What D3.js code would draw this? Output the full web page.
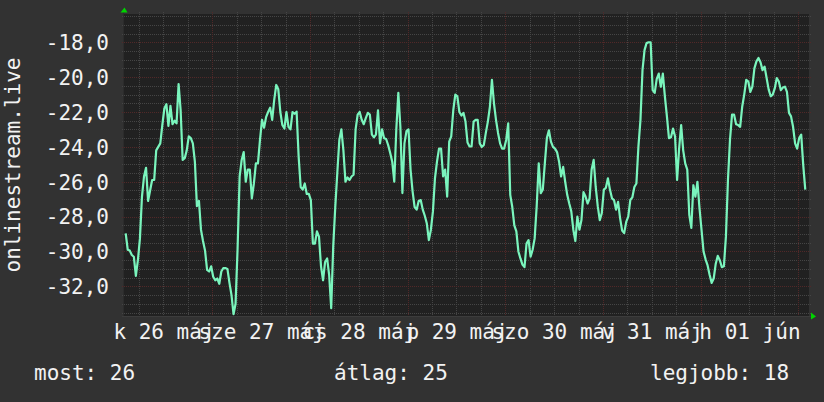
<!DOCTYPE html>
<html>
<head>
<meta charset="utf-8">
<script src="https://cdn.jsdelivr.net/npm/d3@7"></script>
<style>
body{margin:0;background:#323232;}
text{font-family:"DejaVu Sans Mono",monospace;}
</style>
</head>
<body>
<div id="chart-area"></div>
<script>
// one sample every 30 minutes, starting 2020-05-26 02:43 UTC
var startTime=Date.UTC(2020,4,26,2,43);
var stepMinutes=30;
var values=[
-28.96,-29.9,-29.95,-30.2,-30.3,-31.4,-30.5,-29.25,-26.85,-25.7,
-25.2,-27.1,-26.5,-25.9,-25.9,-24.2,-24.0,-23.8,-22.75,-21.8,
-21.55,-22.8,-21.65,-22.7,-22.5,-22.65,-20.4,-21.9,-24.75,-24.65,
-24.2,-23.4,-23.5,-23.8,-24.85,-27.4,-27.1,-28.75,-29.4,-29.95,
-31.05,-31.15,-30.85,-31.45,-31.65,-31.55,-31.85,-31.15,-30.95,-30.95,
-31.0,-31.8,-32.5,-33.6,-33.0,-29.8,-25.7,-24.75,-24.3,-26.0,
-25.3,-25.3,-26.95,-26.1,-24.95,-24.95,-23.6,-22.45,-22.9,-22.3,
-22.0,-21.75,-22.45,-21.3,-20.45,-20.7,-22.0,-22.75,-22.95,-22.0,
-22.85,-23.0,-22.0,-22.1,
-21.98,-24.55,-26.3,-26.45,-26.1,-26.7,
-26.7,-27.05,-29.55,-29.55,-28.85,-29.15,-30.85,-31.65,-30.6,-30.4,
-31.35,-33.25,-29.7,-27.45,-25.5,-23.6,-23.0,-24.2,-26.0,-25.75,
-25.9,-25.7,-25.6,-23.0,-22.15,-22.0,-22.45,-22.7,-22.35,-22.05,
-22.15,-23.3,-23.45,-23.3,-21.9,-23.8,-23.0,-23.5,-23.55,-23.9,
-24.35,-24.85,-26.0,-23.0,-20.9,-22.85,-26.65,-23.8,-23.1,-23.0,
-25.3,-26.55,-27.45,-27.6,-27.1,-27.05,-27.6,-27.95,-28.4,-29.35,
-28.75,-27.7,-25.8,-24.85,-24.1,-24.1,-25.7,-25.3,-26.85,-23.7,
-23.4,-21.9,-21.0,-21.1,-22.0,-22.2,-22.05,-22.55,
-23.75,-23.98,
-23.98,-22.55,-22.45,-22.45,-23.8,-24.0,-23.9,-23.2,-22.55,-21.7,
-20.15,-21.5,-22.45,-23.2,-23.8,-24.1,-24.1,-23.6,-22.65,-26.75,
-27.45,-28.5,-28.85,-30.0,-30.4,-30.75,-30.9,-29.55,-29.35,-30.3,
-29.9,-29.25,-27.4,-24.95,-26.65,-26.45,-24.95,-23.5,-23.05,-23.7,
-24.0,-24.1,-24.3,-24.85,-25.7,-25.15,-26.0,-26.75,-27.25,-27.7,
-28.75,-29.4,-28.0,-28.75,-28.2,-26.6,-26.85,-27.25,-26.95,-25.3,
-24.75,-26.3,-27.4,-28.2,-27.8,-26.45,-26.35,-25.8,-26.45,-26.95,
-27.05,-27.6,-27.15,-28.1,-28.8,-28.95,-28.3,-28.0,-27.05,-26.9,
-26.3,
-26.1,-23.98,-22.45,-19.6,-18.45,-18.05,-18.0,-18.0,-20.75,
-20.9,-20.1,-19.8,-20.55,-19.8,-21.1,-22.25,-23.5,-23.45,-22.95,
-23.4,-25.9,-24.1,-22.75,-24.2,-24.95,-25.3,-27.9,-28.65,-26.2,
-26.85,-26.0,-27.5,-28.75,-30.0,-30.45,-30.8,-31.35,-31.8,-31.55,
-30.7,-30.25,-30.5,-30.9,-30.85,-29.15,-25.9,-23.6,-22.15,-22.15,
-22.7,-22.75,-22.85,-21.7,-21.0,-20.15,-20.25,-20.85,-20.55,-19.5,
-19.1,-18.9,-19.15,-19.6,-19.4,-20.05,-20.7,-21.1,-21.0,-20.65,
-20.05,-20.25,-20.75,-20.6,-20.55,-20.85,-22.05,-22.25,-22.85,-23.8,
-24.1,-23.5,-23.3,-25.05,-26.45
];
var dayLabels=["k 26 máj","sze 27 máj","cs 28 máj","p 29 máj","szo 30 máj","v 31 máj","h 01 jún"];
var dayNoons=[26,27,28,29,30,31,32].map(function(d){return Date.UTC(2020,4,d,12);});
var yLabelTicks=[-32,-30,-28,-26,-24,-22,-20,-18];
var legendNames=["most:","átlag:","legjobb:"];
var legendValues=[26,25,18];
var axisTitle="onlinestream.live";

var width=824,height=402;
var plot={left:124,right:809,top:14,bottom:316};

var data=values.map(function(v,i){return {t:new Date(startTime+i*stepMinutes*60000),v:v};});

var svg=d3.select("#chart-area").append("svg")
	.attr("width",width)
	.attr("height",height);

svg.append("rect").attr("width",width).attr("height",height).attr("fill","#323232");

var x=d3.scaleUtc()
	.domain([new Date(Date.UTC(2020,4,26,2,18)),new Date(Date.UTC(2020,5,2,2,38))])
	.range([plot.left,plot.right]);

var y=d3.scaleLinear()
	.domain([-33.7,-16.38])
	.range([plot.bottom,plot.top]);

var loc=d3.formatLocale({decimal:",",thousands:" ",grouping:[3],currency:["",""],minus:"-"});
var fmt=loc.format(".1f");

svg.append("rect")
	.attr("x",plot.left)
	.attr("y",plot.top)
	.attr("width",plot.right-plot.left)
	.attr("height",plot.bottom-plot.top)
	.attr("fill","#212121");

function px(v){return Math.round(v)+0.5;}

// minor grid
var minorY=d3.range(-33.5,-16.4,0.5);
svg.append("g").attr("shape-rendering","crispEdges").selectAll("line").data(minorY).enter().append("line")
	.attr("x1",plot.left-2).attr("x2",plot.right+2)
	.attr("y1",(d)=>px(y(d))).attr("y2",(d)=>px(y(d)))
	.attr("stroke","#454545").attr("stroke-dasharray","1,1");

var minorX=d3.utcHour.every(6).range(x.domain()[0],x.domain()[1]);
svg.append("g").attr("shape-rendering","crispEdges").selectAll("line").data(minorX).enter().append("line")
	.attr("x1",(d)=>px(x(d))).attr("x2",(d)=>px(x(d)))
	.attr("y1",plot.top-2).attr("y2",plot.bottom+2)
	.attr("stroke","#454545").attr("stroke-dasharray","1,1");

// major grid
var majorY=d3.range(-32,-17,2);
svg.append("g").attr("shape-rendering","crispEdges").selectAll("line").data(majorY).enter().append("line")
	.attr("x1",plot.left-2).attr("x2",plot.right+2)
	.attr("y1",(d)=>px(y(d))).attr("y2",(d)=>px(y(d)))
	.attr("stroke","#512828").attr("stroke-dasharray","1,1");

var majorX=d3.utcDay.range(x.domain()[0],x.domain()[1]);
svg.append("g").attr("shape-rendering","crispEdges").selectAll("line").data(majorX).enter().append("line")
	.attr("x1",(d)=>px(x(d))).attr("x2",(d)=>px(x(d)))
	.attr("y1",plot.top-2).attr("y2",plot.bottom+2)
	.attr("stroke","#512828").attr("stroke-dasharray","1,1");

// axis lines
svg.append("line")
	.attr("x1",plot.left-2).attr("x2",plot.right+3)
	.attr("y1",plot.bottom+0.5).attr("y2",plot.bottom+0.5)
	.attr("stroke","#3c3c3c");
svg.append("line")
	.attr("x1",plot.left-0.5).attr("x2",plot.left-0.5)
	.attr("y1",plot.top-3).attr("y2",plot.bottom)
	.attr("stroke","#2c2c2c");

// arrows
svg.append("path")
	.attr("d","M"+(plot.left-3.5)+","+(plot.top-1.5)+"L"+(plot.left+0.5)+","+(plot.top-6.5)+"L"+(plot.left+3.5)+","+(plot.top-1.5)+"Z")
	.attr("fill","#00d400");
svg.append("path")
	.attr("d","M"+(plot.right+2)+","+(plot.bottom-3.5)+"L"+(plot.right+7)+","+(plot.bottom+0.5)+"L"+(plot.right+2)+","+(plot.bottom+3.5)+"Z")
	.attr("fill","#00d400");

// data line
var line=d3.line()
	.x((d)=>x(d.t))
	.y((d)=>y(d.v));

svg.append("path")
	.datum(data)
	.attr("d",line)
	.attr("fill","none")
	.attr("stroke","#7af5bd")
	.attr("stroke-width",2.2)
	.attr("stroke-linejoin","round");

// y axis labels
var leftAxis=d3.axisLeft(y)
	.tickValues(yLabelTicks)
	.tickFormat(fmt)
	.tickSize(0)
	.tickPadding(0);

var yAxisG=svg.append("g")
	.attr("transform","translate(109,0)")
	.call(leftAxis);
yAxisG.select(".domain").remove();
yAxisG.selectAll("text")
	.attr("font-family","DejaVu Sans Mono")
	.attr("font-size","21px")
	.attr("fill","#f2f2f2")
	.attr("dy","0.35em");

// x axis labels (they overlap in the original too)
var bottomAxis=d3.axisBottom(x)
	.tickValues(dayNoons.map((d)=>new Date(d)))
	.tickFormat((d,i)=>dayLabels[i])
	.tickSize(0)
	.tickPadding(0);

var xAxisG=svg.append("g")
	.attr("transform","translate(0,339)")
	.call(bottomAxis);
xAxisG.select(".domain").remove();
xAxisG.selectAll("text")
	.attr("font-family","DejaVu Sans Mono")
	.attr("font-size","21px")
	.attr("fill","#f2f2f2")
	.attr("y",0)
	.attr("dy",0);

// vertical title
svg.append("text")
	.attr("transform","translate(20,"+((plot.top+plot.bottom)/2)+") rotate(-90)")
	.attr("text-anchor","middle")
	.attr("font-size","21px")
	.attr("fill","#f2f2f2")
	.text(axisTitle);

// legend
var legendX=[34,334,650];
legendNames.forEach((n,i)=>{
	svg.append("text")
		.attr("x",legendX[i])
		.attr("y",380)
		.attr("font-size","21px")
		.attr("fill","#f2f2f2")
		.attr("xml:space","preserve")
		.text(n+" "+legendValues[i]);
});
</script>
</body>
</html>
